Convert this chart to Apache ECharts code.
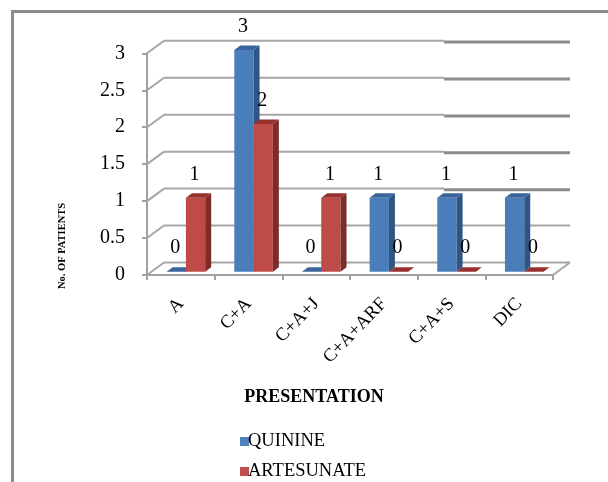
<!DOCTYPE html>
<html>
<head>
<meta charset="utf-8">
<style>html,body{margin:0;padding:0;background:#fff}#c{width:608px;height:482px}</style>
<script src="https://cdn.jsdelivr.net/npm/echarts@6/dist/echarts.min.js"></script>
</head>
<body>
<div id="c"></div>
<script>
const categories = ['A', 'C+A', 'C+A+J', 'C+A+ARF', 'C+A+S', 'DIC'];
const quinine = [0, 3, 0, 1, 1, 1];
const artesunate = [1, 2, 1, 0, 0, 0];
const yTicks = [0, 0.5, 1, 1.5, 2, 2.5, 3];
const yLabels = { 0: '0', 0.5: '0.5', 1: '1', 1.5: '1.5', 2: '2', 2.5: '2.5', 3: '3' };

const SERIF = '"Liberation Serif","Times New Roman",serif';
const WALL_DX = 17, WALL_DY = -12.5;
const SEAM_X = 444;
const BAR_DX = 6, BAR_DY = -4.5, FLOOR_LIFT = -3.3;
const LABEL_UP = 23.5;

function wallItem(params, api) {
  const v = api.value(0);
  const idx = categories.length - 1;
  const p0 = api.coord([0, v]);
  const pEnd = api.coord([idx, v]);
  const cat = api.size([1, 0])[0];
  const x0 = p0[0] - cat / 2, x1 = pEnd[0] + cat / 2, y = p0[1];
  const thin = { stroke: '#a6a6a6', lineWidth: 2, fill: null };
  const kids = [];
  const bx0 = x0 + WALL_DX, bx1 = x1 + WALL_DX, by = y + WALL_DY;
  kids.push({ type: 'line', shape: { x1: x0, y1: y, x2: bx0, y2: by }, style: thin });
  if (v >= 1) {
    kids.push({ type: 'line', shape: { x1: bx0, y1: by, x2: SEAM_X, y2: by }, style: thin });
    kids.push({ type: 'line', shape: { x1: SEAM_X, y1: by + 1.2, x2: bx1, y2: by + 1.2 }, style: { stroke: '#8c8c8c', lineWidth: 3 } });
  } else {
    kids.push({ type: 'line', shape: { x1: bx0, y1: by, x2: bx1, y2: by }, style: thin });
  }
  if (v === 0) {
    kids.push({ type: 'line', shape: { x1: x1, y1: y, x2: bx1, y2: by }, style: thin });
  }
  return { type: 'group', children: kids };
}

function barItem(colors, side) {
  return function (params, api) {
    const i = api.value(0), v = api.value(1);
    const c = api.coord([i, v]), base = api.coord([i, 0]);
    const cat = api.size([1, 0])[0];
    const w = cat * 0.285;
    const mid = c[0] + cat * 0.075;
    const xl = side < 0 ? mid - w : mid;
    const xr = xl + w;
    const top = c[1] + FLOOR_LIFT, bot = base[1] + FLOOR_LIFT;
    const kids = [];
    if (v > 0) {
      kids.push({ type: 'rect', shape: { x: xl, y: top, width: w, height: bot - top }, style: { fill: colors[0] } });
      kids.push({ type: 'polygon', shape: { points: [[xr, top], [xr + BAR_DX, top + BAR_DY], [xr + BAR_DX, bot + BAR_DY], [xr, bot]] }, style: { fill: colors[1] } });
    }
    kids.push({ type: 'polygon', shape: { points: [[xl, top], [xr, top], [xr + BAR_DX, top + BAR_DY], [xl + BAR_DX, top + BAR_DY]] }, style: { fill: colors[2] } });
    kids.push({ type: 'text', z2: 10, style: { text: String(v), x: (xl + xr) / 2 - 1, y: top - LABEL_UP, align: 'center', verticalAlign: 'middle', font: '20px ' + SERIF, fill: '#000' } });
    return { type: 'group', children: kids };
  };
}

const legendBase = {
  orient: 'vertical', left: 235, itemWidth: 9, itemHeight: 9, itemGap: 0, icon: 'rect',
  textStyle: { fontSize: 18.5, color: '#000', fontFamily: SERIF, padding: [3, 0, 0, -6] }
};

const chart = echarts.init(document.getElementById('c'));
chart.setOption({
  animation: false,
  backgroundColor: '#fff',
  textStyle: { fontFamily: SERIF },
  grid: { left: 147, right: 55, top: 53.3, bottom: 207, containLabel: false },
  xAxis: {
    type: 'category',
    data: categories,
    boundaryGap: true,
    axisLine: { lineStyle: { color: '#a0a0a0', width: 2 } },
    axisTick: { show: true, length: 5, interval: 0, alignWithLabel: false, lineStyle: { color: '#a0a0a0', width: 2 } },
    axisLabel: { interval: 0, rotate: 46, margin: 26, fontSize: 18.5, color: '#000', fontFamily: SERIF }
  },
  yAxis: {
    type: 'value', min: 0, max: 3, interval: 0.5,
    splitLine: { show: false },
    axisLine: { show: true, lineStyle: { color: '#a0a0a0', width: 2 } },
    axisTick: { show: true, length: 5, lineStyle: { color: '#a0a0a0', width: 2 } },
    axisLabel: { margin: 22, fontSize: 20, color: '#000', fontFamily: SERIF, padding: [3, 0, 0, 0], formatter: function (v) { return yLabels[v]; } }
  },
  legend: [
    Object.assign({}, legendBase, { top: 427, data: ['QUININE'] }),
    Object.assign({}, legendBase, { top: 457, data: ['ARTESUNATE'] })
  ],
  graphic: [
    { type: 'rect', shape: { x: 11, y: 10, width: 597, height: 3 }, style: { fill: '#8c8c8c' } },
    { type: 'rect', shape: { x: 11, y: 10, width: 3, height: 472 }, style: { fill: '#8c8c8c' } },
    { type: 'text', x: 314, y: 397, style: { text: 'PRESENTATION', font: 'bold 18px ' + SERIF, fill: '#000', align: 'center', verticalAlign: 'middle' } },
    { type: 'text', x: 62, y: 246, rotation: Math.PI / 2, style: { text: 'No. OF PATIENTS', font: 'bold 10.5px ' + SERIF, fill: '#000', align: 'center', verticalAlign: 'middle' } }
  ],
  series: [
    { type: 'custom', name: 'wall', silent: true, coordinateSystem: 'cartesian2d', z: 1, renderItem: wallItem, encode: { y: 0 }, data: yTicks.map(function (v) { return [v]; }) },
    { type: 'custom', name: 'QUININE', z: 3, itemStyle: { color: '#4f81bd' }, renderItem: barItem(['#4a7ebb', '#2f5585', '#3a659c'], -1), encode: { x: 0, y: 1 }, data: quinine.map(function (v, i) { return [i, v]; }) },
    { type: 'custom', name: 'ARTESUNATE', z: 4, itemStyle: { color: '#c0504d' }, renderItem: barItem(['#be4b48', '#7d2c2a', '#98312e'], 1), encode: { x: 0, y: 1 }, data: artesunate.map(function (v, i) { return [i, v]; }) }
  ]
});
</script>
</body>
</html>
